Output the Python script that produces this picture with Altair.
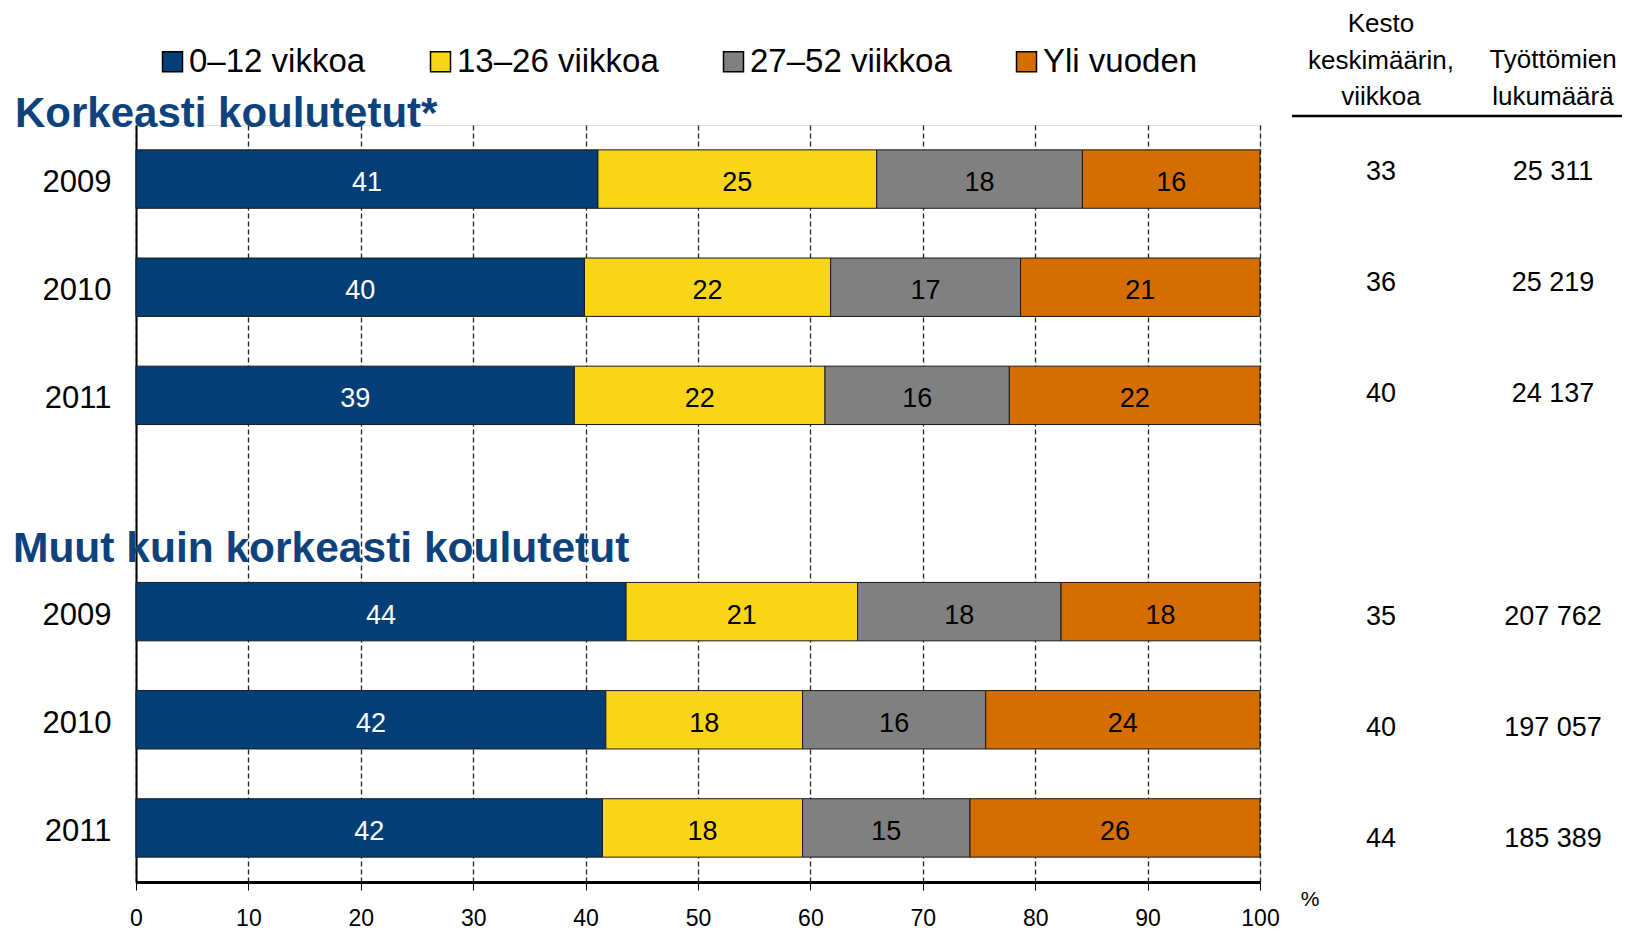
import altair as alt
import pandas as pd

# ---------------- data ----------------
categories = ["0–12 vikkoa", "13–26 viikkoa", "27–52 viikkoa", "Yli vuoden"]
colors = ["#033E77", "#F8D517", "#808080", "#D46E00"]

years = ["2009", "2010", "2011"]
group_keys = ["K", "M"]
group_titles = ["Korkeasti koulutetut*", "Muut kuin korkeasti koulutetut"]

# shares (%) per year 2009, 2010, 2011
korkea_0_12 = [41.1, 39.9, 39.0]
korkea_13_26 = [24.8, 21.9, 22.3]
korkea_27_52 = [18.3, 16.9, 16.4]
korkea_yli = [15.8, 21.3, 22.3]

muut_0_12 = [43.6, 41.8, 41.5]
muut_13_26 = [20.6, 17.5, 17.8]
muut_27_52 = [18.1, 16.3, 14.9]
muut_yli = [17.7, 24.4, 25.8]

korkea_kesto = [33, 36, 40]
muut_kesto = [35, 40, 44]
korkea_lkm = [25311, 25219, 24137]
muut_lkm = [207762, 197057, 185389]

header_kesto = ["Kesto", "keskimäärin,", "viikkoa"]
header_lkm = ["Työttömien", "lukumäärä"]
x_ticks = [0, 10, 20, 30, 40, 50, 60, 70, 80, 90, 100]

# ---------------- tables ----------------
row_domain = ["K2009", "K2010", "K2011", "gap", "M2009", "M2010", "M2011"]
series = {
    "K": [korkea_0_12, korkea_13_26, korkea_27_52, korkea_yli],
    "M": [muut_0_12, muut_13_26, muut_27_52, muut_yli],
}
recs = []
for g in group_keys:
    for ci, cat in enumerate(categories):
        for yi, yr in enumerate(years):
            recs.append({"row": g + yr, "cat": cat, "order": ci, "value": series[g][ci][yi]})
bars_df = pd.DataFrame(recs)

tab = []
for g, kesto, lkm in [("K", korkea_kesto, korkea_lkm), ("M", muut_kesto, muut_lkm)]:
    for yi, yr in enumerate(years):
        tab.append({"row": g + yr, "kesto": kesto[yi], "lkm": lkm[yi]})
tab_df = pd.DataFrame(tab)

FONT = "Liberation Sans"

base = alt.Chart(bars_df).transform_window(
    cum="sum(value)", groupby=["row"], sort=[{"field": "order"}], frame=[None, 0]
).transform_calculate(
    start="datum.cum - datum.value", mid="datum.cum - datum.value / 2"
)

yenc = alt.Y(
    "row:N",
    scale=alt.Scale(domain=row_domain, paddingInner=0.46, paddingOuter=0.23),
    axis=alt.Axis(
        title=None, ticks=False, grid=False, domainColor="black", domainWidth=2,
        labelFontSize=31, labelPadding=25, labelColor="black", labelFont=FONT,
        labelOffset=4,
        labelExpr="datum.value == 'gap' ? '' : substring(datum.value, 1)",
    ),
)

bars = base.mark_bar(stroke="#1a1a1a", strokeWidth=1).encode(
    x=alt.X(
        "start:Q",
        scale=alt.Scale(domain=[0, 100], nice=False, zero=True),
        axis=alt.Axis(
            title=None, values=x_ticks, grid=True, gridDash=[5, 3], gridColor="#222222",
            gridWidth=1.3, gridOpacity=1, domainColor="black", domainWidth=3,
            tickColor="black", tickSize=8, tickWidth=1, labelFontSize=23,
            labelPadding=17, labelColor="black", labelFont=FONT, labelFlush=False,
        ),
    ),
    x2="cum:Q",
    y=yenc,
    color=alt.Color(
        "cat:N",
        scale=alt.Scale(domain=categories, range=colors),
        legend=alt.Legend(
            title=None, orient="none", legendX=20, legendY=-80, direction="horizontal",
            columns=4, columnPadding=58, symbolType="square", symbolSize=400,
            symbolStrokeColor="black", symbolStrokeWidth=1.5, labelFontSize=33,
            labelFont=FONT, labelColor="black", labelOffset=0, labelLimit=400,
        ),
    ),
)

bar_labels = base.mark_text(fontSize=27, baseline="middle", font=FONT, dy=4).encode(
    x="mid:Q",
    y=alt.Y("row:N"),
    text=alt.Text("value:Q", format=".0f"),
    color=alt.condition("datum.order == 0", alt.value("white"), alt.value("black")),
)

tab_y = alt.Y("row:N", scale=alt.Scale(type="point", domain=row_domain, range=[47, 714], padding=0), axis=None)
tab_base = alt.Chart(tab_df)
kesto_txt = tab_base.mark_text(fontSize=27, font=FONT, color="black", baseline="middle").encode(
    x=alt.value(1245), y=tab_y, text=alt.Text("kesto:Q", format="d")
)
lkm_txt = tab_base.mark_text(fontSize=27, font=FONT, color="black", baseline="middle").encode(
    x=alt.value(1417), y=tab_y, text=alt.Text("lkm:Q", format=",d")
)

one = pd.DataFrame({"k": [0]})
head1 = alt.Chart(one).mark_text(
    text=header_kesto, fontSize=26, font=FONT, color="black", baseline="middle", lineHeight=36.5
).encode(x=alt.value(1245), y=alt.value(-101))
head2 = alt.Chart(one).mark_text(
    text=header_lkm, fontSize=26, font=FONT, color="black", baseline="middle", lineHeight=36.5
).encode(x=alt.value(1417), y=alt.value(-65))
head_rule = alt.Chart(one).mark_rule(color="black", strokeWidth=2.5).encode(
    x=alt.value(1156), x2=alt.value(1486), y=alt.value(-9)
)
pct = alt.Chart(one).mark_text(text="%", fontSize=21, font=FONT, color="black", baseline="middle").encode(
    x=alt.value(1174), y=alt.value(775)
)

t1 = alt.Chart(pd.DataFrame({"t": [group_titles[0]]})).mark_text(
    fontSize=42, fontWeight="bold", font=FONT, color="#0D427D", align="left", baseline="alphabetic"
).encode(x=alt.value(-121), y=alt.value(2), text="t:N")
t2 = alt.Chart(pd.DataFrame({"t": [group_titles[1]]})).mark_text(
    fontSize=42.5, fontWeight="bold", font=FONT, color="#0D427D", align="left", baseline="alphabetic"
).encode(x=alt.value(-123), y=alt.value(437), text="t:N")

main = alt.layer(bars, bar_labels)
table = alt.layer(kesto_txt, lkm_txt)

chart = alt.layer(
    main, table, head1, head2, head_rule, pct, t1, t2
).resolve_scale(y="independent").properties(
    width=1124, height=757,
    autosize=alt.AutoSizeParams(type="none"),
    padding={"left": 128, "top": 117, "right": 362, "bottom": 50},
).configure_view(stroke=None).configure(
    font=FONT,
    locale=alt.Locale(number=alt.NumberLocale(decimal=",", thousands=" ", grouping=[3], currency=["", " €"])),
)

chart.save("out.html", embed_options={"renderer": "svg", "actions": False})
